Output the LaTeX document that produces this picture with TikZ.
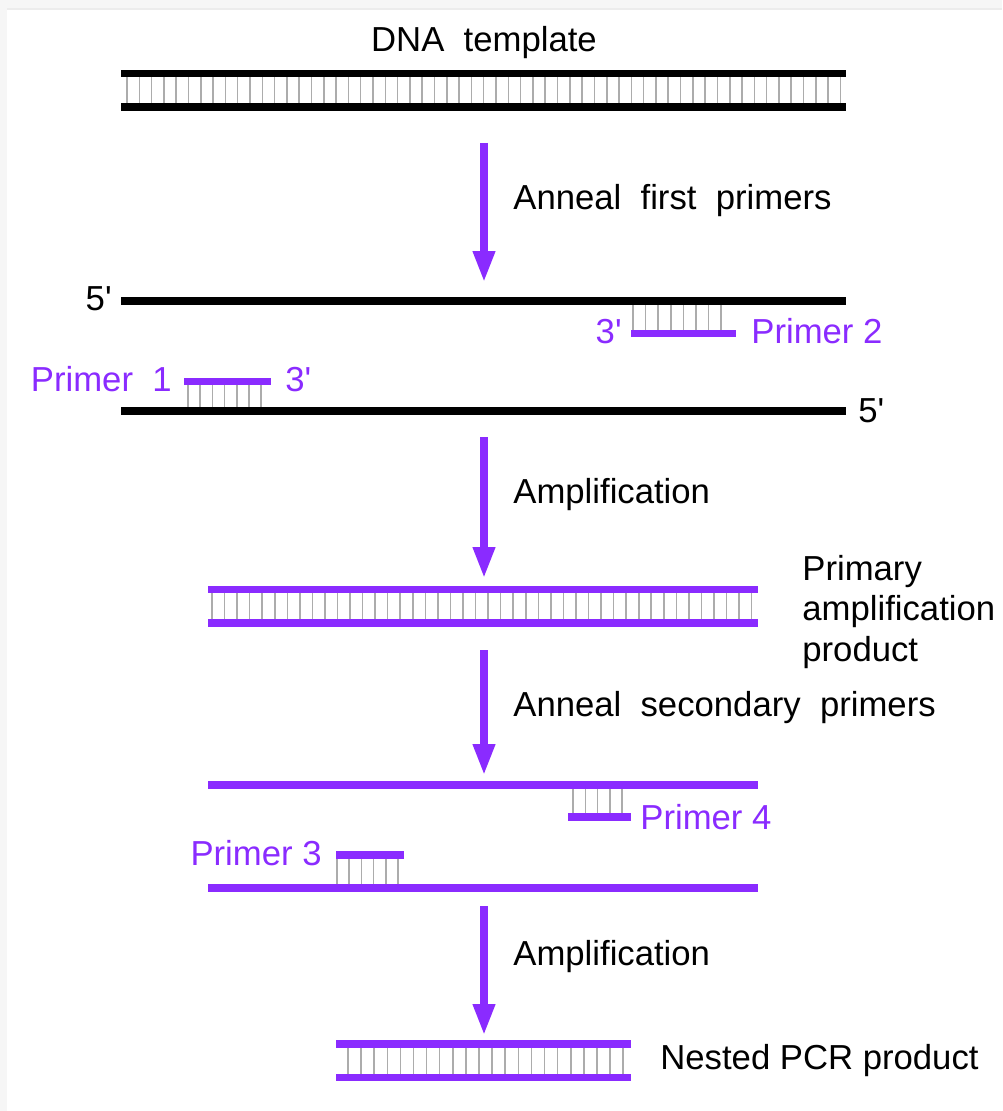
\documentclass[tikz,border=0pt]{standalone}
\usepackage{fontspec}
\setmainfont{Liberation Sans}
\usetikzlibrary{arrows.meta}
\definecolor{pcrviolet}{RGB}{138,43,255}
\tikzset{
    strand/.style={line width=4pt},
    rung/.style={draw=gray!65, line width=0.9pt},
    flow/.style={pcrviolet, line width=4pt, -{Triangle[width=0.42cm, length=0.62cm]}},
    lbl/.style={inner sep=0pt, font=\fontsize{19.75}{22.8}\selectfont},
    plbl/.style={lbl, text=pcrviolet}
}
\newcommand{\prm}{\textquotesingle}

\begin{document}
\begin{tikzpicture}[x=0.02cm, y=-0.02cm]
    \useasboundingbox (0,0) rectangle (1002,1111);
    \fill[gray!7] (0,0) rectangle (1002,9);
    \fill[gray!7] (0,9) rectangle (7,1111);
    \draw[gray!15, line width=0.8pt] (7,9) -- (1002,9);

    \node[lbl, anchor=base] (tmpl) at (484,52) {DNA\ \ template};
    \foreach \i in {0,...,58} \draw[rung] ({127+12.3*\i},73.5) -- ++(0,33.5);
    \draw[strand] (121,73.5) -- (846,73.5);
    \draw[strand] (121,107) -- (846,107);

    \coordinate (a1s) at (484,143);
    \coordinate (a1e) at (484,282);
    \node[lbl, anchor=base west] (st1) at (513,210) {Anneal\ \ first\ \ primers};

    \foreach \i in {0,...,7} \draw[rung] ({633+12.6*\i},301) -- ++(0,32.5);
    \foreach \i in {0,...,6} \draw[rung] ({188+12.2*\i},381.5) -- ++(0,30);
    \draw[strand] (121,301) -- (846,301);
    \draw[strand] (121,411) -- (846,411);
    \draw[strand, pcrviolet] (631,333.5) -- (736,333.5);
    \draw[strand, pcrviolet] (184,381.5) -- (271,381.5);
    \node[lbl, anchor=base east] (f5a) at (112,311) {5\prm};
    \node[lbl, anchor=base west] (f5b) at (858,422) {5\prm};
    \node[plbl, anchor=base east] (p2e) at (622,343) {3\prm};
    \node[plbl, anchor=base west] (p2) at (751,343) {Primer 2};
    \node[plbl, anchor=base east] (p1) at (172,391) {Primer\ \ 1};
    \node[plbl, anchor=base west] (p1e) at (285,391) {3\prm};

    \coordinate (a2s) at (484,437);
    \coordinate (a2e) at (484,578);
    \node[lbl, anchor=base west] (st2) at (513,503) {Amplification};

    \foreach \i in {0,...,43} \draw[rung] ({212+12.55*\i},589.5) -- ++(0,33.5);
    \draw[strand, pcrviolet] (208,589.5) -- (758,589.5);
    \draw[strand, pcrviolet] (208,623) -- (758,623);
    \node[lbl, anchor=west, align=left] (prod1) at (802,612) {Primary\\amplification\\product};

    \coordinate (a3s) at (484,650);
    \coordinate (a3e) at (484,775);
    \node[lbl, anchor=base west] (st3) at (513,716) {Anneal\ \ secondary\ \ primers};

    \foreach \i in {0,...,4} \draw[rung] ({573+12.3*\i},785) -- ++(0,32);
    \foreach \i in {0,...,5} \draw[rung] ({337+12.2*\i},855) -- ++(0,33);
    \draw[strand, pcrviolet] (208,785) -- (758,785);
    \draw[strand, pcrviolet] (208,888) -- (758,888);
    \draw[strand, pcrviolet] (568,817) -- (631,817);
    \draw[strand, pcrviolet] (336,855) -- (404,855);
    \node[plbl, anchor=base west] (p4) at (640,829) {Primer 4};
    \node[plbl, anchor=base east] (p3) at (322,865) {Primer 3};

    \coordinate (a4s) at (484,906);
    \coordinate (a4e) at (484,1035);
    \node[lbl, anchor=base west] (st4) at (513,965) {Amplification};

    \foreach \i in {0,...,21} \draw[rung] ({348+13.1*\i},1044) -- ++(0,33);
    \draw[strand, pcrviolet] (336,1044) -- (631,1044);
    \draw[strand, pcrviolet] (336,1077) -- (631,1077);
    \node[lbl, anchor=base west] (prod2) at (660,1069) {Nested PCR product};

    \draw
    (a1s) edge[flow] (a1e)
    (a2s) edge[flow] (a2e)
    (a3s) edge[flow] (a3e)
    (a4s) edge[flow] (a4e);
\end{tikzpicture}
\end{document}
